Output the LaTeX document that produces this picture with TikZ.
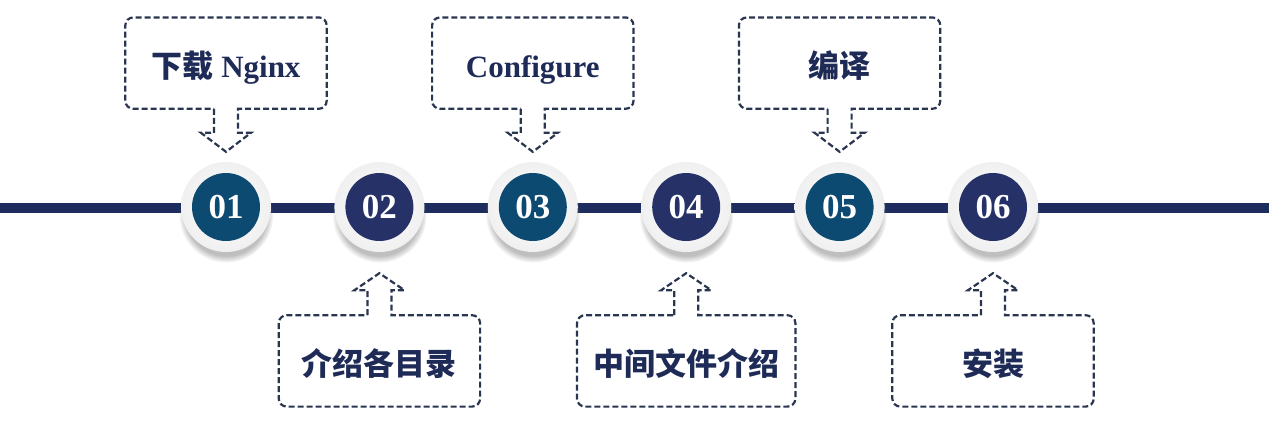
\documentclass[tikz,border=0pt]{standalone}
\usepackage{fontspec}
\setmainfont{Liberation Serif}
\newfontfamily\cjk{Noto Sans CJK SC}
\usetikzlibrary{positioning,shadows}
\definecolor{track}{HTML}{1F2D5E}
\definecolor{stepodd}{HTML}{0D4A72}
\definecolor{stepeven}{HTML}{263267}
\definecolor{label}{HTML}{1F2B57}
\definecolor{dashline}{HTML}{2A3550}

\begin{document}
\begin{tikzpicture}[x=1pt, y=1pt,
  track line/.style = {draw=track, line width=10pt},
  ring/.style = {circle, minimum size=90, inner sep=0,
    inner color=white, outer color=gray!12,
    circular drop shadow={shadow xshift=0pt, shadow yshift=-8pt,
      shadow scale=1.05, opacity=.5}},
  disk/.style = {circle, minimum size=68, inner sep=0, text=white,
    font=\bfseries\fontsize{35}{35}\selectfont},
  box/.style = {minimum width=201, minimum height=91, inner sep=0,
    text height=29pt, text depth=0pt,
    text=label, font=\bfseries\fontsize{31}{36}\selectfont},
  callout/.style = {draw=dashline, line width=2.2pt,
    dash pattern=on 6pt off 3pt}]
  \path[use as bounding box, fill=white] (0,0) rectangle (1269,-429);

  \coordinate (west) at (0,-208);
  \coordinate (east) at (1269,-208);
  \draw[track line] (west) -- (east);

  % steps on the line
  \node[ring] (r1) at (226,-207) {};
  \node[ring, right=63 of r1] (r2) {};
  \node[ring, right=63 of r2] (r3) {};
  \node[ring, right=63 of r3] (r4) {};
  \node[ring, right=63 of r4] (r5) {};
  \node[ring, right=63 of r5] (r6) {};
  \node[disk, fill=stepodd] (c1) at (r1) {01};
  \node[disk, fill=stepeven] (c2) at (r2) {02};
  \node[disk, fill=stepodd] (c3) at (r3) {03};
  \node[disk, fill=stepeven] (c4) at (r4) {04};
  \node[disk, fill=stepodd] (c5) at (r5) {05};
  \node[disk, fill=stepeven] (c6) at (r6) {06};

  % callouts
  \node[box, above=53 of r1] (b1) {{\cjk 下载} Nginx};
  \node[box, below=63 of r2] (b2) {\cjk 介绍各目录};
  \node[box, above=53 of r3] (b3) {Configure};
  \node[box, below=63 of r4, minimum width=218] (b4) {\cjk 中间文件介绍};
  \node[box, above=53 of r5] (b5) {\cjk 编译};
  \node[box, below=63 of r6] (b6) {\cjk 安装};

  \draw[callout] (b1.south) ++(-12,0) -- ++(0,-24) -- ++(-13,0) -- ++(25,-19)
    -- ++(25,19) -- ++(-13,0) -- ++(0,24) -- ++(28,0) [rounded corners=8pt]
    -- (b1.south east) -- (b1.north east) -- (b1.north west) -- (b1.south west)
    -- ([xshift=-12pt]b1.south);
  \draw[callout] (b3.south) ++(-12,0) -- ++(0,-24) -- ++(-13,0) -- ++(25,-19)
    -- ++(25,19) -- ++(-13,0) -- ++(0,24) -- ++(28,0) [rounded corners=8pt]
    -- (b3.south east) -- (b3.north east) -- (b3.north west) -- (b3.south west)
    -- ([xshift=-12pt]b3.south);
  \draw[callout] (b5.south) ++(-12,0) -- ++(0,-24) -- ++(-13,0) -- ++(25,-19)
    -- ++(25,19) -- ++(-13,0) -- ++(0,24) -- ++(28,0) [rounded corners=8pt]
    -- (b5.south east) -- (b5.north east) -- (b5.north west) -- (b5.south west)
    -- ([xshift=-12pt]b5.south);
  \draw[callout] (b2.north) ++(-12,0) -- ++(0,25) -- ++(-13,0) -- ++(25,17)
    -- ++(25,-17) -- ++(-13,0) -- ++(0,-25) -- ++(28,0) [rounded corners=8pt]
    -- (b2.north east) -- (b2.south east) -- (b2.south west) -- (b2.north west)
    -- ([xshift=-12pt]b2.north);
  \draw[callout] (b4.north) ++(-12,0) -- ++(0,25) -- ++(-13,0) -- ++(25,17)
    -- ++(25,-17) -- ++(-13,0) -- ++(0,-25) -- ++(28,0) [rounded corners=8pt]
    -- (b4.north east) -- (b4.south east) -- (b4.south west) -- (b4.north west)
    -- ([xshift=-12pt]b4.north);
  \draw[callout] (b6.north) ++(-12,0) -- ++(0,25) -- ++(-13,0) -- ++(25,17)
    -- ++(25,-17) -- ++(-13,0) -- ++(0,-25) -- ++(28,0) [rounded corners=8pt]
    -- (b6.north east) -- (b6.south east) -- (b6.south west) -- (b6.north west)
    -- ([xshift=-12pt]b6.north);
\end{tikzpicture}
\end{document}
